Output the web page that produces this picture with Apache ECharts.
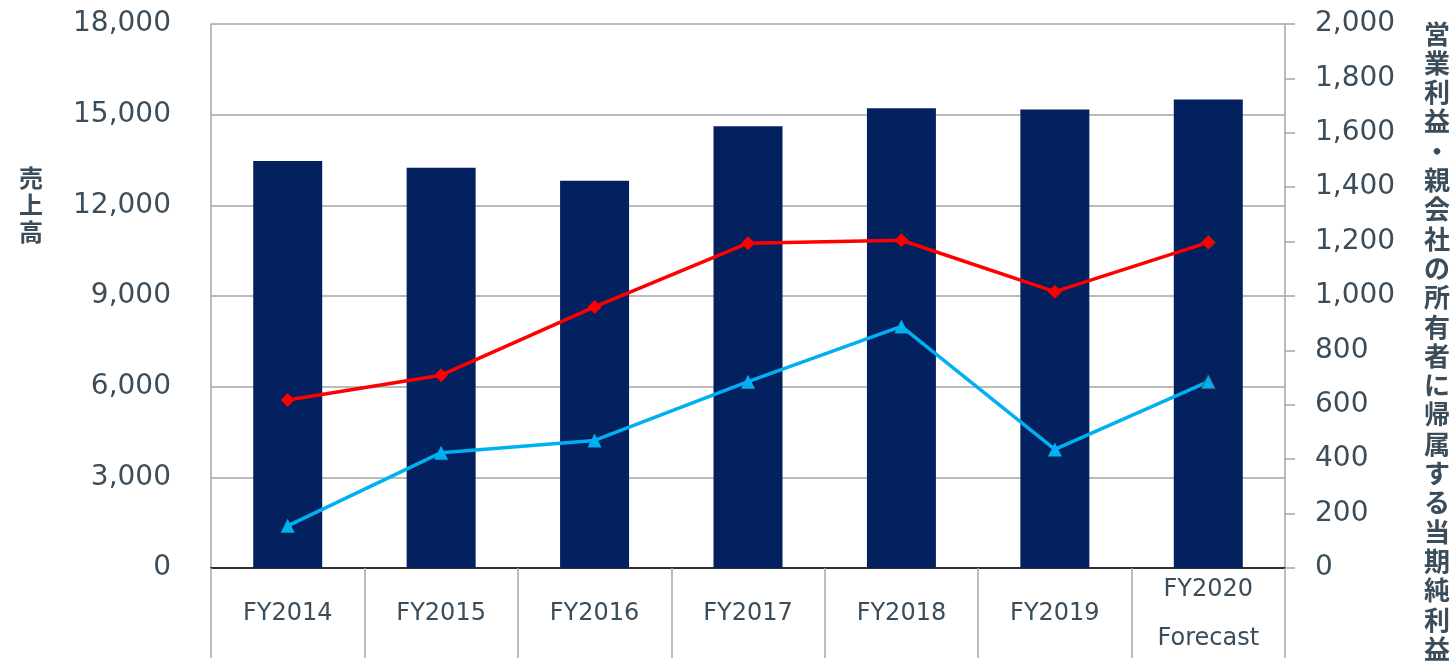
<!DOCTYPE html>
<html>
<head>
<meta charset="utf-8">
<script src="https://cdn.jsdelivr.net/npm/echarts@6/dist/echarts.min.js"></script>
<style>
html,body{margin:0;padding:0;background:#fff;}
#chart{width:1453px;height:663px;}
</style>
</head>
<body>
<div id="chart"></div>
<script>
const categories = ['FY2014','FY2015','FY2016','FY2017','FY2018','FY2019','FY2020\nForecast'];
const sales = [13470, 13240, 12810, 14620, 15210, 15170, 15500];
const operatingProfit = [618, 709, 960, 1194, 1205, 1016, 1197];
const netIncome = [155, 424, 469, 685, 888, 436, 685];
const leftAxisName = '売上高';
const rightAxisName = '営業利益・親会社の所有者に帰属する当期純利益';
const leftAxisRange = {min: 0, max: 18000, interval: 3000};
const rightAxisRange = {min: 0, max: 2000, interval: 200};

const textColor = '#3b4d5a';
const gridColor = '#a6a6a6';
const fmt = v => Number(v).toLocaleString('en-US');

function markForecast(arr, border) {
  return arr.map((v, i) => i === arr.length - 1
    ? {value: v, itemStyle: {borderColor: border, borderWidth: 1}}
    : v);
}

const chart = echarts.init(document.getElementById('chart'), null, {renderer: 'canvas'});
chart.setOption({
  animation: false,
  backgroundColor: '#fff',
  grid: {left: 211, right: 168, top: 24, bottom: 90, containLabel: false},
  xAxis: {
    type: 'category',
    data: categories,
    boundaryGap: true,
    axisLine: {show: true, lineStyle: {color: '#000', width: 1.5}},
    axisTick: {show: true, length: 90, lineStyle: {color: gridColor, width: 1.5}},
    axisLabel: {
      color: textColor, fontFamily: 'DejaVu Sans', fontSize: 24,
      margin: 46, verticalAlign: 'middle', lineHeight: 49, interval: 0
    },
    splitLine: {show: false}
  },
  yAxis: [
    {
      type: 'value', position: 'left',
      min: leftAxisRange.min, max: leftAxisRange.max, interval: leftAxisRange.interval,
      axisLine: {show: true, lineStyle: {color: gridColor, width: 1.5}},
      axisTick: {show: false},
      axisLabel: {color: textColor, fontFamily: 'DejaVu Sans', fontSize: 28, margin: 40, formatter: fmt},
      splitLine: {show: true, lineStyle: {color: gridColor, width: 1.5}}
    },
    {
      type: 'value', position: 'right',
      min: rightAxisRange.min, max: rightAxisRange.max, interval: rightAxisRange.interval,
      axisLine: {show: true, lineStyle: {color: gridColor, width: 1.5}},
      axisTick: {show: true, inside: false, length: 10, lineStyle: {color: gridColor, width: 1.5}},
      axisLabel: {color: textColor, fontFamily: 'DejaVu Sans', fontSize: 28, margin: 30, formatter: fmt},
      splitLine: {show: false}
    }
  ],
  series: [
    {
      name: '売上高', type: 'bar', yAxisIndex: 0, data: sales,
      barWidth: 69,
      itemStyle: {color: '#03205f'},
      z: 2
    },
    {
      name: '営業利益', type: 'line', yAxisIndex: 1, data: markForecast(operatingProfit, '#7a2a2a'),
      symbol: 'diamond', symbolSize: 14,
      lineStyle: {color: '#ff0000', width: 3.5},
      itemStyle: {color: '#ff0000'},
      z: 5
    },
    {
      name: '親会社の所有者に帰属する当期純利益', type: 'line', yAxisIndex: 1, data: markForecast(netIncome, '#3a5a6a'),
      symbol: 'triangle', symbolSize: 14,
      lineStyle: {color: '#00b0f0', width: 3.5},
      itemStyle: {color: '#00b0f0'},
      z: 4
    }
  ],
  graphic: [
    {
      type: 'text', x: 31, y: 205,
      style: {
        text: leftAxisName.split('').join('\n'),
        fill: textColor, font: 'bold 24px "Noto Sans CJK JP"',
        lineHeight: 27, align: 'center', verticalAlign: 'middle'
      }
    },
    {
      type: 'text', x: 1437, y: 19,
      style: {
        text: rightAxisName.split('').join('\n'),
        fill: textColor, font: 'bold 26px "Noto Sans CJK JP"',
        lineHeight: 29.3, align: 'center', verticalAlign: 'top'
      }
    }
  ]
});
</script>
</body>
</html>
